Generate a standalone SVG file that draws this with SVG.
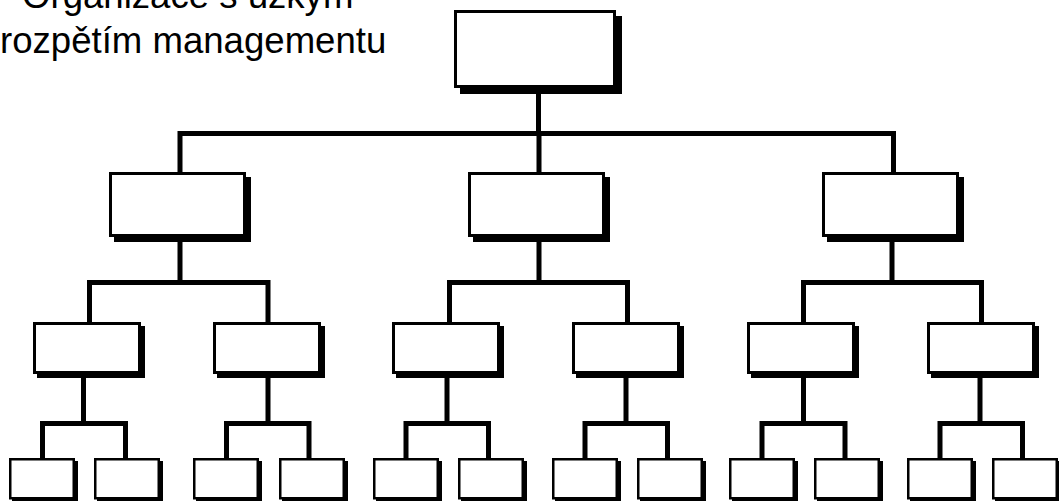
<svg xmlns="http://www.w3.org/2000/svg" width="1059" height="501" viewBox="0 0 1059 501">
<style>
.bg{fill:#fff}
.sh{fill:#000}
.bx{fill:#fff;stroke:#000;stroke-width:3}
.bx4{fill:#fff;stroke:#000;stroke-width:2.5}
.cn{fill:none;stroke:#000;stroke-width:5;stroke-linejoin:miter;stroke-linecap:butt}
.t{font-family:"Liberation Sans",Arial,sans-serif;font-size:36.6px;fill:#000}
</style>
<rect class="bg" x="0" y="0" width="1059" height="501"/>
<g id="title">
<text class="t" x="22" y="8">Organizace s úzkým</text>
<text class="t" x="0" y="53">rozpětím managementu</text>
</g>
<g id="connectors">
<path class="cn" d="M538.5,88 V133.5"/>
<path class="cn" d="M180,172 V133.5 H893.5 V172 M539,133.5 V172"/>
<path class="cn" d="M180,237 V282.5 M89.5,322 V282.5 H268 V322"/>
<path class="cn" d="M539,237 V282.5 M449.5,322 V282.5 H627.5 V322"/>
<path class="cn" d="M892,237 V282.5 M803.5,322 V282.5 H981.5 V322"/>
<path class="cn" d="M83.5,374 V423.5 M42.5,458 V423.5 H125.5 V458"/>
<path class="cn" d="M268,374 V423.5 M226.5,458 V423.5 H309 V458"/>
<path class="cn" d="M447,374 V423.5 M406,458 V423.5 H488.5 V458"/>
<path class="cn" d="M626,374 V423.5 M585,458 V423.5 H667.5 V458"/>
<path class="cn" d="M803.5,374 V423.5 M762,458 V423.5 H845 V458"/>
<path class="cn" d="M980,374 V423.5 M940,458 V423.5 H1022.5 V458"/>
</g>
<g id="n0"><rect class="sh" x="460" y="16" width="162" height="78"/><rect class="bx" x="455.5" y="11.5" width="159" height="75"/></g>
<g id="n1"><rect class="sh" x="114" y="177" width="137" height="65"/><rect class="bx" x="110.5" y="173.5" width="134" height="62"/></g>
<g id="n2"><rect class="sh" x="473" y="177" width="137" height="65"/><rect class="bx" x="469.5" y="173.5" width="134" height="62"/></g>
<g id="n3"><rect class="sh" x="827" y="177" width="137" height="65"/><rect class="bx" x="823.5" y="173.5" width="134" height="62"/></g>
<g id="n11"><rect class="sh" x="37" y="326" width="108" height="52"/><rect class="bx" x="34.5" y="323.5" width="105" height="49"/></g>
<g id="n12"><rect class="sh" x="217" y="326" width="108" height="52"/><rect class="bx" x="214.5" y="323.5" width="105" height="49"/></g>
<g id="n21"><rect class="sh" x="396" y="326" width="108" height="52"/><rect class="bx" x="393.5" y="323.5" width="105" height="49"/></g>
<g id="n22"><rect class="sh" x="576" y="326" width="108" height="52"/><rect class="bx" x="573.5" y="323.5" width="105" height="49"/></g>
<g id="n31"><rect class="sh" x="751" y="326" width="108" height="52"/><rect class="bx" x="748.5" y="323.5" width="105" height="49"/></g>
<g id="n32"><rect class="sh" x="931" y="326" width="108" height="52"/><rect class="bx" x="928.5" y="323.5" width="105" height="49"/></g>
<g id="l1"><rect class="sh" x="12" y="461" width="66" height="41"/><rect class="bx4" x="10.25" y="459.25" width="63.5" height="39"/></g>
<g id="l2"><rect class="sh" x="97" y="461" width="66" height="41"/><rect class="bx4" x="95.25" y="459.25" width="63.5" height="39"/></g>
<g id="l3"><rect class="sh" x="196" y="461" width="66" height="41"/><rect class="bx4" x="194.25" y="459.25" width="63.5" height="39"/></g>
<g id="l4"><rect class="sh" x="282" y="461" width="66" height="41"/><rect class="bx4" x="280.25" y="459.25" width="63.5" height="39"/></g>
<g id="l5"><rect class="sh" x="376" y="461" width="66" height="41"/><rect class="bx4" x="374.25" y="459.25" width="63.5" height="39"/></g>
<g id="l6"><rect class="sh" x="461" y="461" width="66" height="41"/><rect class="bx4" x="459.25" y="459.25" width="63.5" height="39"/></g>
<g id="l7"><rect class="sh" x="555" y="461" width="66" height="41"/><rect class="bx4" x="553.25" y="459.25" width="63.5" height="39"/></g>
<g id="l8"><rect class="sh" x="640" y="461" width="66" height="41"/><rect class="bx4" x="638.25" y="459.25" width="63.5" height="39"/></g>
<g id="l9"><rect class="sh" x="732" y="461" width="66" height="41"/><rect class="bx4" x="730.25" y="459.25" width="63.5" height="39"/></g>
<g id="l10"><rect class="sh" x="817" y="461" width="66" height="41"/><rect class="bx4" x="815.25" y="459.25" width="63.5" height="39"/></g>
<g id="l11"><rect class="sh" x="910" y="461" width="66" height="41"/><rect class="bx4" x="908.25" y="459.25" width="63.5" height="39"/></g>
<g id="l12"><rect class="sh" x="995" y="461" width="66" height="41"/><rect class="bx4" x="993.25" y="459.25" width="63.5" height="39"/></g>
</svg>
